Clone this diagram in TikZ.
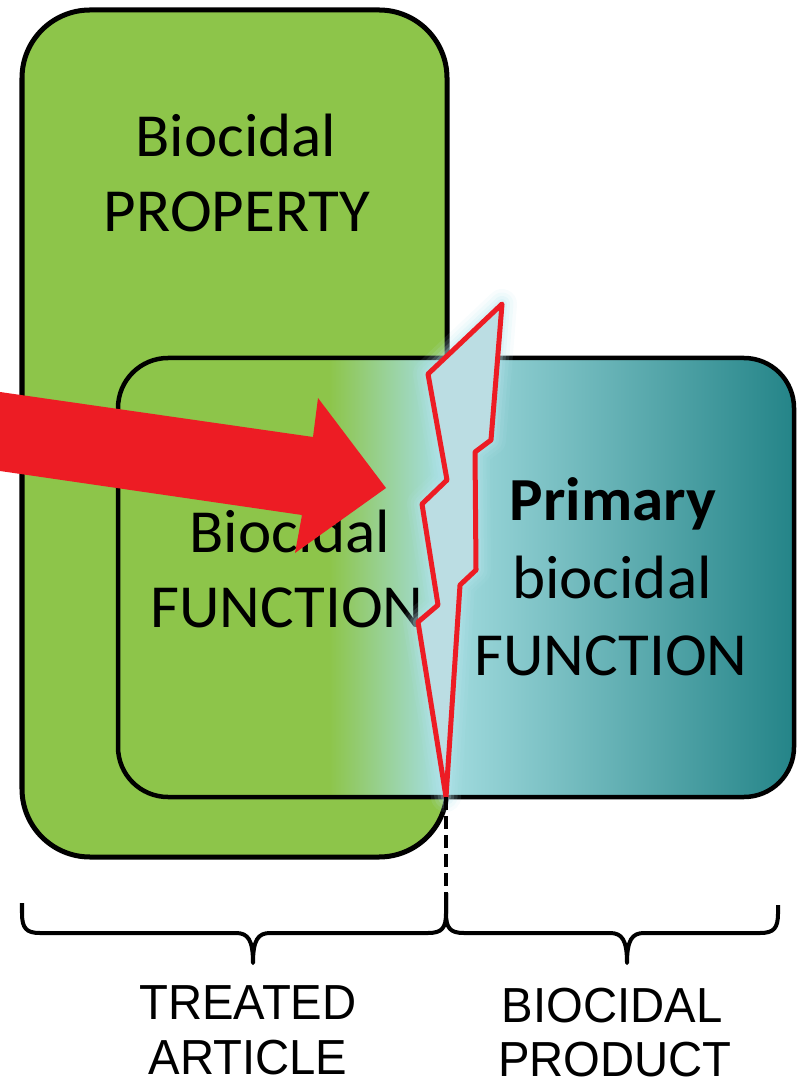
\documentclass[tikz,border=0pt]{standalone}
\usepackage{fontspec}
\usepackage{graphicx}
\setmainfont{Carlito}
\newfontfamily\capsfont{Liberation Sans}

\definecolor{leaf}{HTML}{8DC54A}
\definecolor{aqua}{HTML}{A4DDE0}
\definecolor{deepteal}{HTML}{248488}
\definecolor{alarm}{HTML}{ED1C24}
\definecolor{boltfill}{HTML}{BBDDE3}
\definecolor{halo}{HTML}{B8E6EE}

% green -> pale aqua -> teal, across the function box
\pgfdeclarehorizontalshading{innerfill}{100bp}{%
  color(0bp)=(leaf); color(40.6bp)=(leaf); color(48.7bp)=(aqua);
  color(75bp)=(deepteal); color(100bp)=(deepteal)}

\newcommand{\widetext}[1]{\scalebox{1.03}[1]{#1}}
\newcommand{\narrowtext}[1]{\scalebox{0.96}[1]{#1}}

\tikzset{
  outerbox/.style={fill=leaf, draw=black, line width=0.05cm, rounded corners=0.68cm},
  innerbox/.style={shade, shading=innerfill, draw=black, line width=0.045cm, rounded corners=0.5cm},
  boxtext/.style={inner sep=0pt, anchor=base, font=\fontsize{17.4}{20}\selectfont},
  captext/.style={inner sep=0pt, anchor=base, font=\capsfont\fontsize{14}{16}\selectfont},
  bigarrow/.style={fill=alarm, draw=none},
  boltline/.style={draw=alarm, fill=boltfill, line width=0.05cm, line join=round},
  glow/.style={draw=halo, line join=round, line cap=round},
  brace/.style={draw=black, line width=0.04cm, line join=round},
  split/.style={draw=black, line width=0.04cm, dash pattern=on 0.13cm off 0.06cm}
}

\begin{document}
\begin{tikzpicture}[x=0.01cm, y=-0.01cm]
\useasboundingbox (0,0) rectangle (799,1083);

% treated article box and the function box laid over it
\path[outerbox] (22,10) rectangle (447,857);
\path[innerbox] (118,358) rectangle (794,797);

% box labels
\node[boxtext] (prop1) at (236,157) {\widetext{Biocidal}};
\node[boxtext] (prop2) at (237,232) {\widetext{PROPERTY}};
\node[boxtext] (func1) at (290,552) {\widetext{Biocidal}};
\node[boxtext] (func2) at (287,627) {\widetext{FUNCTION}};
\node[boxtext] (prim1) at (613,521) {\widetext{\bfseries Primary}};
\node[boxtext] (prim2) at (612,598) {\widetext{biocidal}};
\node[boxtext] (prim3) at (611,675) {\widetext{FUNCTION}};

% red arrow entering from the left
\path[bigarrow] (0,392) -- (313,437) -- (318,398) -- (386,488) -- (295,553)
  -- (302,515) -- (0,471) -- cycle;

% lightning split between the two functions
\coordinate (b1) at (502,304);
\coordinate (b2) at (428,374);
\coordinate (b3) at (447,480);
\coordinate (b4) at (422,504);
\coordinate (b5) at (438,605);
\coordinate (b6) at (418,622);
\coordinate (tip) at (446,797);
\coordinate (b8) at (460,585);
\coordinate (b9) at (476,570);
\coordinate (b10) at (475,452);
\coordinate (b11) at (491,440);

\foreach \w/\o in {0.30/0.10, 0.23/0.13, 0.16/0.18, 0.10/0.25}{
  \path[glow, line width=\w cm, draw opacity=\o]
    (b1) -- (b2) -- (b3) -- (b4) -- (b5) -- (b6) -- (tip) -- (b8) -- (b9)
    -- (b10) -- (b11) -- cycle;
}
\path[boltline] (b1) -- (b2) -- (b3) -- (b4) -- (b5) -- (b6) -- (tip) -- (b8)
  -- (b9) -- (b10) -- (b11) -- cycle;

% dashed divider down to the braces
\coordinate (join) at (446,893);
\path[split] (tip) -- (join);

% braces
\coordinate (lend) at (22,903);
\coordinate (ltip) at (253,963);
\coordinate (rend) at (778,905);
\coordinate (rtip) at (627,963);
\path[brace] (lend) -- (22,913) .. controls (22,928) and (26,933) .. (40,933)
  -- (236,933) .. controls (248,933) and (253,940) .. (ltip)
  .. controls (253,940) and (258,933) .. (270,933)
  -- (428,933) .. controls (442,933) and (446,928) .. (446,913) -- (join);
\path[brace] (join) -- (446,913) .. controls (446,928) and (450,933) .. (464,933)
  -- (610,933) .. controls (622,933) and (627,940) .. (rtip)
  .. controls (627,940) and (632,933) .. (644,933)
  -- (760,933) .. controls (774,933) and (778,928) .. (778,913) -- (rend);

% captions
\node[captext] (cap1) at (248,1019) {\narrowtext{TREATED}};
\node[captext] (cap2) at (248,1074) {\narrowtext{ARTICLE}};
\node[captext] (cap3) at (612,1022) {\narrowtext{BIOCIDAL}};
\node[captext] (cap4) at (615,1076) {\narrowtext{PRODUCT}};
\end{tikzpicture}
\end{document}
